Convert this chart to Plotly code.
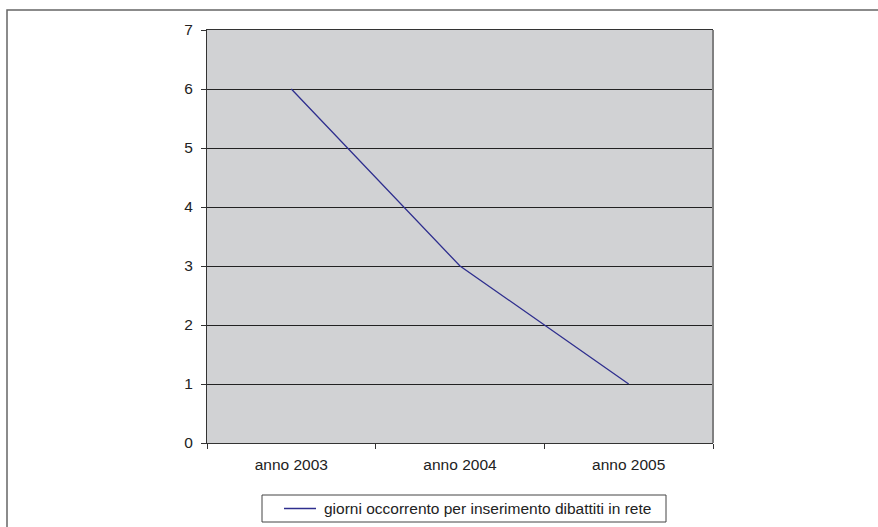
import plotly.graph_objects as go

# Days needed to publish debates online, per year
categories = ["anno 2003", "anno 2004", "anno 2005"]
giorni = [6, 3, 1]
series_name = "giorni occorrento per inserimento dibattiti in rete"
y_ticks = [0, 1, 2, 3, 4, 5, 6, 7]

W, H = 878, 527
L, R, T, B = 207, 165, 30, 84
pw, ph = W - L - R, H - T - B
LINE_COLOR = "#2E2E8E"


def px_x(x):
    return (x - L) / pw


def px_y(y):
    return (H - B - y) / ph


fig = go.Figure()
fig.add_trace(go.Scatter(
    x=categories, y=giorni, mode="lines", name=series_name,
    line=dict(color=LINE_COLOR, width=1.3),
))

font = dict(family="Liberation Sans, Arial, sans-serif", size=15.5, color="#222222")

# Boxed legend under the plot: frame, line sample and label
legend_y = 508.5
fig.add_shape(type="rect", xref="paper", yref="paper",
              x0=px_x(262), x1=px_x(666), y0=px_y(522), y1=px_y(495),
              line=dict(color="#444444", width=1), fillcolor="white")
fig.add_shape(type="line", xref="paper", yref="paper",
              x0=px_x(284), x1=px_x(316), y0=px_y(legend_y), y1=px_y(legend_y),
              line=dict(color=LINE_COLOR, width=1.5))
fig.add_annotation(xref="paper", yref="paper", x=px_x(322), y=px_y(legend_y),
                   xanchor="left", yanchor="middle", text=series_name,
                   showarrow=False, font=font)

fig.update_layout(
    width=W, height=H,
    margin=dict(l=L, r=R, t=T, b=B, pad=0, autoexpand=False),
    paper_bgcolor="white",
    plot_bgcolor="#D1D2D4",
    font=font,
    showlegend=False,
    xaxis=dict(
        type="category", range=[-0.5, 2.5],
        showgrid=False, zeroline=False,
        showline=True, linecolor="#333333", linewidth=1, mirror=True,
        ticks="outside", ticklen=5, tickcolor="#333333",
        tickson="boundaries", ticklabelstandoff=7,
        tickfont=font,
    ),
    yaxis=dict(
        range=[0, 7], tickvals=y_ticks,
        showgrid=True, gridcolor="#222222", gridwidth=1,
        zeroline=False,
        showline=True, linecolor="#333333", linewidth=1,
        ticks="outside", ticklen=5, tickcolor="#333333",
        ticklabelstandoff=5,
        tickfont=font,
    ),
)

# right edge of the plot frame in grey
fig.add_shape(type="line", xref="paper", yref="paper",
              x0=1, x1=1, y0=0, y1=1,
              line=dict(color="#808080", width=2))
# outer chart frame, running past the page edges
fig.add_shape(type="rect", xref="paper", yref="paper",
              x0=px_x(7), x1=px_x(900), y0=px_y(10), y1=px_y(560),
              line=dict(color="#666666", width=1.5))

fig.write_html("out.html")
